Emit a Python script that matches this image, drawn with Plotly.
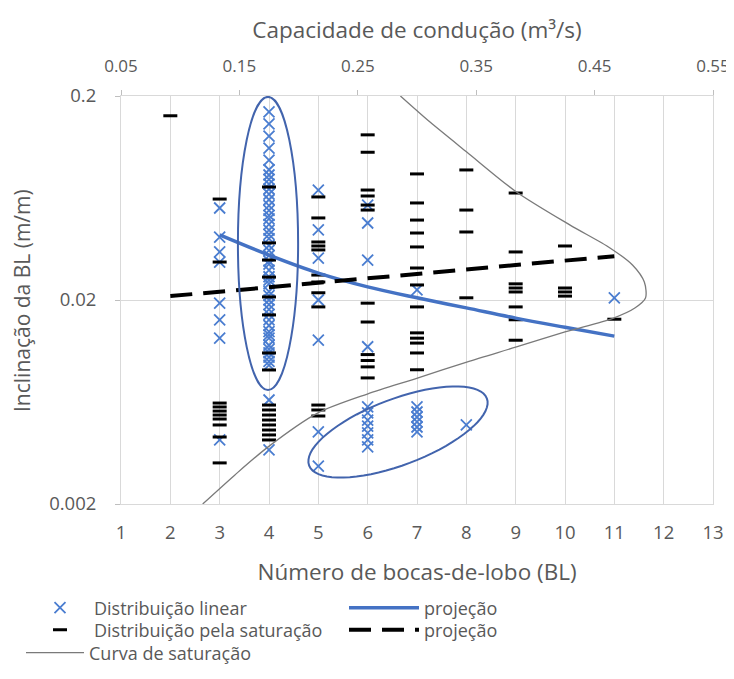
import numpy as np
import plotly.graph_objects as go

# ---------------- data ----------------
# Distribuição linear (blue X markers): x = número de BL, y = inclinação (m/m)
lin_x = ([3] * 8 + [4] * 48 + [5] * 7 + [6] * 11 + [7] * 7 + [8] + [11])
lin_y = [
    # x = 3
    0.0565, 0.0407, 0.0344, 0.0307, 0.0193, 0.0160, 0.0130, 0.00412,
    # x = 4
    0.167, 0.146, 0.127, 0.111, 0.097, 0.087,
    0.082, 0.078, 0.074, 0.070, 0.066, 0.062, 0.058, 0.055, 0.052, 0.050,
    0.047, 0.044, 0.042, 0.040, 0.037, 0.035, 0.033, 0.031, 0.030, 0.028,
    0.026, 0.025, 0.024, 0.022, 0.021, 0.020, 0.019, 0.018, 0.017, 0.016,
    0.015, 0.014, 0.0135, 0.013, 0.012, 0.0115, 0.011, 0.0105, 0.010, 0.0096,
    0.00647, 0.00368,
    # x = 5
    0.0692, 0.0441, 0.0321, 0.0200, 0.0127, 0.00451, 0.00307,
    # x = 6
    0.0584, 0.0477, 0.0314, 0.0118, 0.00598, 0.00559, 0.00516, 0.00482,
    0.00446, 0.00412, 0.00381,
    # x = 7
    0.0224, 0.00598, 0.00565, 0.00534, 0.00505, 0.00477, 0.00451,
    # x = 8
    0.00488,
    # x = 11
    0.0205,
]

# Distribuição pela saturação (black dash markers)
sat_x = ([2] + [3] * 10 + [4] * 16 + [5] * 12 + [6] * 12 + [7] * 13
         + [8] * 4 + [9] * 8 + [10] * 4 + [11])
sat_y = [
    # x = 2
    0.160,
    # x = 3
    0.0625, 0.0307, 0.00625, 0.00598, 0.00571, 0.00546, 0.00522, 0.00488,
    0.00426, 0.00318,
    # x = 4
    0.0716, 0.0381, 0.0314, 0.0259, 0.0207, 0.0169, 0.0110, 0.00908,
    0.00611, 0.00578, 0.00546, 0.00516, 0.00488, 0.00461, 0.00436, 0.00412,
    # x = 5
    0.0640, 0.0505, 0.0385, 0.0368, 0.0352, 0.0265, 0.0245, 0.0217, 0.0185,
    0.00611, 0.00578, 0.00540,
    # x = 6
    0.129, 0.106, 0.0692, 0.0647, 0.0584, 0.0552, 0.0193, 0.0156, 0.0108,
    0.0101, 0.0094, 0.0083,
    # x = 7
    0.0830, 0.0598, 0.0493, 0.0426, 0.0364, 0.0287, 0.0237, 0.0185, 0.0138,
    0.0130, 0.0123, 0.0110, 0.0091,
    # x = 8
    0.0868, 0.0552, 0.0431, 0.0205,
    # x = 9
    0.0669, 0.0344, 0.0240, 0.0229, 0.0219, 0.0185, 0.0160, 0.0127,
    # x = 10
    0.0368, 0.0229, 0.0219, 0.0209,
    # x = 11
    0.0161,
]

# Curva de saturação: capacidade de condução (m³/s) x inclinação (m/m)
curve_cap = [0.119, 0.146, 0.174, 0.216, 0.258, 0.301, 0.342, 0.384, 0.425,
             0.466, 0.484, 0.493, 0.492, 0.482, 0.463, 0.429, 0.384, 0.342,
             0.311, 0.286]
curve_slope = [0.0020, 0.00277, 0.0038, 0.00558, 0.00692, 0.0083, 0.00993,
               0.01177, 0.01394, 0.01632, 0.01827, 0.02046, 0.02449, 0.0297,
               0.036, 0.0467, 0.0677, 0.1063, 0.149, 0.200]

# projeções (linhas de tendência)
proj_lin_x = [3, 4, 5, 6, 7, 8, 9, 10, 11]
proj_lin_y = [0.0417, 0.0332, 0.0271, 0.0232, 0.0205, 0.0183, 0.0163, 0.0147, 0.0133]
proj_sat_x = [2, 11]
proj_sat_y = [0.0209, 0.0328]

# axis ticks
x_ticks = list(range(1, 14))
cap_ticks = [0.05, 0.15, 0.25, 0.35, 0.45, 0.55]
y_ticks = [0.002, 0.02, 0.2]
y_ticktext = ["0.002", "0.02", "0.2"]

# ---------------- style ----------------
FONT = "Open Sans"
GRAY_TXT = "#595959"
GRID = "#d9d9d9"
BLUE_M = "#4a7dd0"
BLUE_L = "#4472c4"
ELL = "#4264ad"

# the page body adds an 8 px offset, so the figure is drawn 8 px smaller
OFF = 8
W, H = 734 - OFF, 679 - OFF
ML, MR, MT, MB = 121 - OFF, 21, 96 - OFF, 175
PW, PH = W - ML - MR, H - MT - MB
PL, PT = ML + OFF, MT + OFF  # plot-area origin in page pixels


def lx(px):  # page pixel -> paper x
    return (px - PL) / PW


def ly(py):  # page pixel -> paper y
    return (PT + PH - py) / PH


fig = go.Figure()

fig.add_trace(go.Scatter(
    x=lin_x, y=lin_y, mode="markers", name="Distribuição linear",
    marker=dict(symbol="x-thin", size=11, color=BLUE_M,
                line=dict(width=1.8, color=BLUE_M)),
    legend="legend"))

fig.add_trace(go.Scatter(
    x=sat_x, y=sat_y, mode="markers", name="Distribuição pela saturação",
    marker=dict(symbol="line-ew", size=10, color="black",
                line=dict(width=3, color="black")),
    legend="legend2"))

fig.add_trace(go.Scatter(
    x=curve_cap, y=curve_slope, xaxis="x2", yaxis="y", mode="lines",
    name="Curva de saturação",
    line=dict(color="#7a7a7a", width=1.3, shape="spline", smoothing=0.8),
    legend="legend3"))

fig.add_trace(go.Scatter(
    x=proj_lin_x, y=proj_lin_y, mode="lines", name="projeção",
    line=dict(color=BLUE_L, width=3.5, shape="spline"),
    legend="legend4"))

fig.add_trace(go.Scatter(
    x=proj_sat_x, y=proj_sat_y, mode="lines", name="projeção",
    line=dict(color="black", width=4, dash="22px,11px"),
    legend="legend5"))

# ellipse around x = 4 column (data coordinates)
fig.add_shape(type="circle", xref="x", yref="y",
              x0=3.37, x1=4.59, y0=0.00724, y1=0.198,
              line=dict(color=ELL, width=2), fillcolor="rgba(0,0,0,0)")

# tilted ellipse around the low points (pixel geometry -> paper coords)
t = np.linspace(0, 2 * np.pi, 73)
cx, cy, a, b, ang = 398, 432, 95, 33, np.deg2rad(20.7)
ex = cx + a * np.cos(t) * np.cos(ang) - b * np.sin(t) * np.sin(ang)
ey = cy - (a * np.cos(t) * np.sin(ang) + b * np.sin(t) * np.cos(ang))
path = "M " + " L ".join(f"{lx(u):.4f},{ly(v):.4f}" for u, v in zip(ex, ey)) + " Z"
fig.add_shape(type="path", xref="paper", yref="paper", path=path,
              line=dict(color=ELL, width=2))

tick_font = dict(family=FONT, size=18.5, color=GRAY_TXT)
top_tick_font = dict(family=FONT, size=17, color=GRAY_TXT)
htitle_font = dict(family=FONT, size=22.5, color=GRAY_TXT)
vtitle_font = dict(family=FONT, size=21, color=GRAY_TXT)
leg_font = dict(family=FONT, size=18, color=GRAY_TXT)

# y-axis title as a rotated text label
fig.add_annotation(text="Inclinação da BL (m/m)", xref="paper", yref="paper",
                   x=lx(22), y=0.5, xanchor="center", yanchor="middle",
                   textangle=-90, showarrow=False, font=vtitle_font)


def leg(xpx, ypx, w):
    # legends placed in container coordinates
    return dict(xref="container", yref="container",
                x=(xpx - OFF) / W, y=1 - (ypx - OFF) / H,
                xanchor="left", yanchor="middle",
                bgcolor="rgba(0,0,0,0)", itemwidth=w, font=leg_font,
                borderwidth=0, visible=True)


fig.update_layout(
    width=W, height=H,
    margin=dict(l=ML, r=MR, t=MT, b=MB, pad=0, autoexpand=False),
    paper_bgcolor="white", plot_bgcolor="white",
    font=dict(family=FONT, color=GRAY_TXT),
    showlegend=True,
    xaxis=dict(range=[1, 13], tickvals=x_ticks, showgrid=True, gridcolor=GRID,
               gridwidth=1, zeroline=False, showline=True, linecolor=GRID,
               ticks="", tickfont=tick_font, ticklabelstandoff=12,
               automargin=False,
               title=dict(text="Número de bocas-de-lobo (BL)", font=htitle_font,
                          standoff=21)),
    xaxis2=dict(range=[0.05, 0.55], tickvals=cap_ticks,
                ticktext=[f"{v:.2f}" for v in cap_ticks],
                overlaying="x", side="top", anchor="y", showgrid=False,
                zeroline=False, showline=True, linecolor=GRID, ticks="outside",
                ticklen=5, tickcolor="#bfbfbf", tickfont=top_tick_font,
                ticklabelstandoff=11, automargin=False,
                title=dict(text="Capacidade de condução (m³/s)", font=htitle_font,
                           standoff=9)),
    yaxis=dict(type="log", range=[np.log10(0.002), np.log10(0.2)],
               tickvals=y_ticks, ticktext=y_ticktext, showgrid=True,
               gridcolor=GRID, zeroline=False, showline=True, linecolor=GRID,
               mirror=True, ticks="outside", ticklen=5, tickcolor="#bfbfbf",
               tickfont=tick_font, ticklabelstandoff=15, automargin=False),
    legend=leg(26, 608, 58),
    legend2=leg(26, 630, 58),
    legend3=leg(21, 653, 58),
    legend4=leg(344, 608, 70),
    legend5=leg(344, 630, 70),
)

fig.write_html("out.html")
